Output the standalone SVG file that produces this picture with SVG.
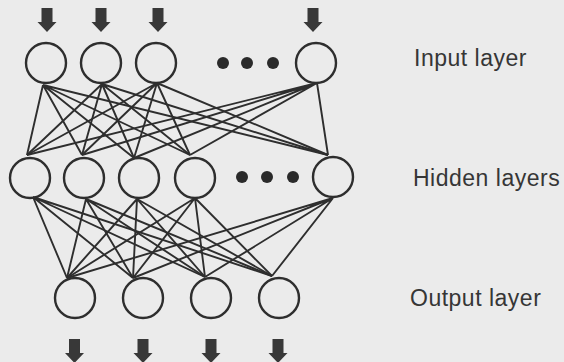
<svg xmlns="http://www.w3.org/2000/svg" width="564" height="362" viewBox="0 0 564 362">
  <style>
    .node { fill: none; stroke: #2e2e2e; stroke-width: 2.4; }
    .dot { fill: #2a2a2a; }
    .edge { stroke: #2e2e2e; stroke-width: 1.9; fill: none; }
    .arrow { fill: #383838; }
    .label { font-family: "Liberation Sans", Arial, sans-serif; font-size: 23px; letter-spacing: 0.5px; fill: #363636; }
  </style>
  <defs>
    <!-- block arrow pointing down, top centre at origin -->
    <path id="down" d="M-5.5,0 H5.5 V14 H9.5 L0,24 L-9.5,14 H-5.5 Z"/>
  </defs>
  <rect width="564" height="362" fill="#ebebeb"/>

  <!-- connectors -->
  <g id="connectors" class="edge">
    <!-- input -> hidden -->
    <path d="M43,85 L27,155 M43,85 L82,155 M43,85 L134,158 M43,85 L190,155 M43,85 L328,155"/>
    <path d="M102,84 L27,155 M102,84 L82,155 M102,84 L134,158 M102,84 L190,155 M102,84 L328,155"/>
    <path d="M157,83 L27,155 M157,83 L82,155 M157,83 L134,158 M157,83 L190,155 M157,83 L328,155"/>
    <path d="M317,83 L27,155 M317,83 L82,155 M317,83 L134,158 M317,83 L190,155 M317,83 L328,155"/>
    <!-- hidden -> output -->
    <path d="M33,197 L67,278 M33,197 L133,278 M33,197 L205,277 M33,197 L272,276"/>
    <path d="M86,199 L67,278 M86,199 L133,278 M86,199 L205,277 M86,199 L272,276"/>
    <path d="M137,199 L67,278 M137,199 L133,278 M137,199 L205,277 M137,199 L272,276"/>
    <path d="M195,198 L67,278 M195,198 L133,278 M195,198 L205,277 M195,198 L272,276"/>
    <path d="M333,198 L67,278 M333,198 L133,278 M333,198 L205,277 M333,198 L272,276"/>
  </g>

  <!-- input layer -->
  <g id="input-1"><use href="#down" class="arrow" x="47" y="8"/><circle class="node" cx="46" cy="63" r="20"/></g>
  <g id="input-2"><use href="#down" class="arrow" x="101" y="8"/><circle class="node" cx="101" cy="63" r="20"/></g>
  <g id="input-3"><use href="#down" class="arrow" x="158" y="8"/><circle class="node" cx="156" cy="63" r="20"/></g>
  <g id="input-dots"><circle class="dot" cx="223" cy="63" r="6"/><circle class="dot" cx="247" cy="63" r="6"/><circle class="dot" cx="273" cy="63" r="6"/></g>
  <g id="input-n"><use href="#down" class="arrow" x="313" y="8"/><circle class="node" cx="316" cy="63" r="20"/></g>

  <!-- hidden layer -->
  <g id="hidden-1"><circle class="node" cx="30" cy="178" r="20"/></g>
  <g id="hidden-2"><circle class="node" cx="84" cy="178" r="20"/></g>
  <g id="hidden-3"><circle class="node" cx="139" cy="178" r="20"/></g>
  <g id="hidden-4"><circle class="node" cx="195" cy="178" r="20"/></g>
  <g id="hidden-dots"><circle class="dot" cx="242" cy="177" r="6"/><circle class="dot" cx="267" cy="177" r="6"/><circle class="dot" cx="293" cy="177" r="6"/></g>
  <g id="hidden-n"><circle class="node" cx="333" cy="177" r="20"/></g>

  <!-- output layer -->
  <g id="output-1"><circle class="node" cx="75" cy="298" r="20"/><use href="#down" class="arrow" x="74.5" y="339"/></g>
  <g id="output-2"><circle class="node" cx="143" cy="298" r="20"/><use href="#down" class="arrow" x="143" y="339"/></g>
  <g id="output-3"><circle class="node" cx="211" cy="298" r="20"/><use href="#down" class="arrow" x="211" y="339"/></g>
  <g id="output-4"><circle class="node" cx="279" cy="298" r="20"/><use href="#down" class="arrow" x="278" y="339"/></g>

  <!-- layer labels -->
  <g id="labels">
    <text class="label" x="414" y="66">Input layer</text>
    <text class="label" x="413" y="186">Hidden layers</text>
    <text class="label" x="410" y="306">Output layer</text>
  </g>
</svg>
